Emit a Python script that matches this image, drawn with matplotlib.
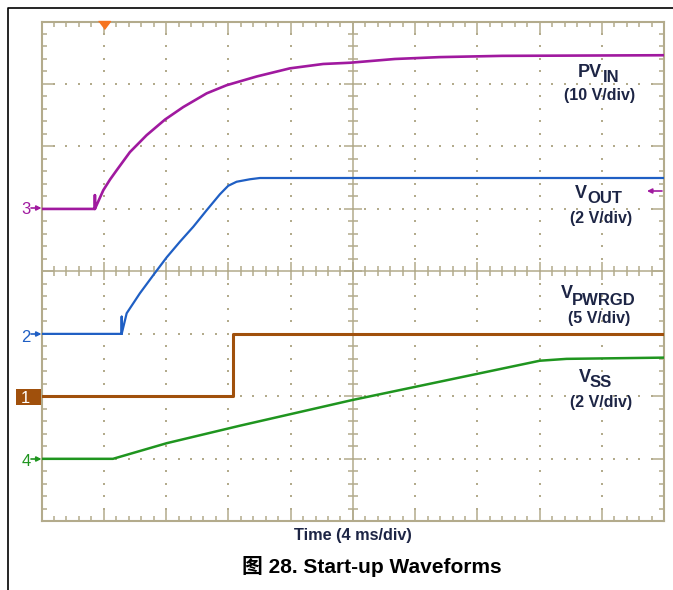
import matplotlib
matplotlib.use('Agg')
import matplotlib.pyplot as plt
import numpy as np
from matplotlib.patches import Rectangle
from matplotlib.lines import Line2D
from matplotlib.ticker import MultipleLocator

W, H = 673, 590

# scope settings: 4 ms/div, 10 x 8 divisions
ms_per_div = 4.0

# PVIN, 10 V/div, ground marker at 5 div
pvin_t = [0, 3.43, 3.43, 3.43, 3.97, 4.40, 4.83, 5.68, 6.75, 7.93, 9.10, 10.61, 11.89,
          13.82, 15.95, 18.09, 19.82, 22.7, 25.58, 29.57, 40.0]
pvin_v = [0, 0, 2.2, 0, 3.0, 4.7, 6.2, 9.1, 11.8, 14.3, 16.3, 18.5, 19.8,
          21.2, 22.5, 23.2, 23.4, 24.0, 24.3, 24.5, 24.6]

# VOUT, 2 V/div, ground marker at 3 div
vout_t = [0, 5.15, 5.15, 5.15, 5.47, 6.32, 7.18, 8.04, 8.89, 9.75, 10.61, 11.46,
          11.99, 12.53, 13.39, 14.03, 40.0]
vout_v = [0, 0, 0.55, 0, 0.66, 1.30, 1.88, 2.45, 2.95, 3.43, 3.96, 4.47,
          4.74, 4.87, 4.95, 4.99, 4.99]

# VPWRGD, 5 V/div, ground marker at 2 div
pg_t = [0, 12.3, 12.3, 40.0]
pg_v = [0, 0, 5.0, 5.0]

# VSS, 2 V/div, ground marker at 1 div
vss_t = [0, 4.59, 8.04, 12.74, 19.94, 25.59, 32.0, 33.72, 40.0]
vss_v = [0, 0, 0.50, 1.06, 1.88, 2.47, 3.14, 3.20, 3.24]

grid_c = '#b3ab8c'
c_pvin = '#a0199f'
c_vout = '#1f5fc4'
c_pg = '#a0500c'
c_vss = '#1f951f'
txt_c = '#1d2545'

plt.rcParams['font.family'] = ['Liberation Sans', 'DejaVu Sans']

fig = plt.figure(figsize=(W / 100, H / 100), dpi=100)
ax = fig.add_axes([41.5 / W, 1 - 521.3 / H, (664.3 - 41.5) / W, (521.3 - 21.5) / H])
ax.set_xlim(0, 10)
ax.set_ylim(0, 8)

for s in ax.spines.values():
    s.set_color(grid_c)
    s.set_linewidth(1.5)
ax.xaxis.set_major_locator(MultipleLocator(1))
ax.xaxis.set_minor_locator(MultipleLocator(0.2))
ax.yaxis.set_major_locator(MultipleLocator(1))
ax.yaxis.set_minor_locator(MultipleLocator(0.2))
ax.tick_params(which='both', direction='in', top=True, right=True,
               labelbottom=False, labelleft=False, color=grid_c, width=1.1)
ax.tick_params(which='major', length=8.6)
ax.tick_params(which='minor', length=3.6)

# dotted graticule
steps_x = np.arange(1, 50) * 0.2
steps_y = np.arange(1, 40) * 0.2
dx, dy = [], []
for gx in [1, 2, 3, 4, 6, 7, 8, 9]:
    dx += [gx] * len(steps_y)
    dy += list(steps_y)
for gy in [1, 2, 3, 5, 6, 7]:
    dx += list(steps_x)
    dy += [gy] * len(steps_x)
ax.scatter(dx, dy, s=1.3, marker='s', color=grid_c, linewidths=0, zorder=1)

# centre cross with ticks
ax.axvline(5, color=grid_c, lw=1.1, zorder=1)
ax.axhline(4, color=grid_c, lw=1.1, zorder=1)
minor_x = [v for v in steps_x if abs(v - round(v)) > 1e-6]
minor_y = [v for v in steps_y if abs(v - round(v)) > 1e-6]
ax.plot(minor_x, [4] * len(minor_x), ls='none', marker='|', ms=7.5, mew=1.1, color=grid_c, zorder=1)
ax.plot(range(1, 10), [4] * 9, ls='none', marker='|', ms=13.5, mew=1.1, color=grid_c, zorder=1)
ax.plot([5] * len(minor_y), minor_y, ls='none', marker='_', ms=7.5, mew=1.1, color=grid_c, zorder=1)
ax.plot([5] * 7, range(1, 8), ls='none', marker='_', ms=13.5, mew=1.1, color=grid_c, zorder=1)

# traces
def trace(t, v, pos, scale, color, lw):
    ax.plot(np.array(t) / ms_per_div, pos + np.array(v) / scale, color=color, lw=lw,
            solid_joinstyle='round', zorder=5)

trace(pvin_t, pvin_v, 5, 10, c_pvin, 1.9)
trace(vout_t, vout_v, 3, 2, c_vout, 1.6)
trace(pg_t, pg_v, 2, 5, c_pg, 2.2)
trace(vss_t, vss_v, 1, 2, c_vss, 1.8)

# trigger marker
ax.plot(1, (521.3 - 25) / 62.5, marker=[(-6, 4), (6, 4), (0, -4)], ms=8.6,
        color='#f6741f', clip_on=False, zorder=6)


def ftxt(x, y, s, **kw):
    fig.text(x / W, 1 - y / H, s, **kw)


def farrow(x0, x1, y, color):
    ax.annotate('', xy=(x1, H - y), xycoords='figure pixels', xytext=(x0, H - y),
                textcoords='figure pixels',
                arrowprops=dict(arrowstyle='-|>', color=color, lw=1.2,
                                mutation_scale=7, shrinkA=0, shrinkB=0))


# channel labels
bold = dict(fontweight='bold', color=txt_c, va='baseline')
ftxt(578, 76.7, 'PV', fontsize=13, ha='left', **bold)
ftxt(603, 81.7, 'IN', fontsize=12, ha='left', **bold)
ftxt(599.5, 100, '(10 V/div)', fontsize=11.5, ha='center', **bold)
ftxt(575, 197.7, 'V', fontsize=13, ha='left', **bold)
ftxt(587, 203.3, 'OUT', fontsize=12, ha='left', **bold)
ftxt(601.5, 223.3, '(2 V/div)', fontsize=11.5, ha='center', **bold)
ftxt(560.7, 298.3, 'V', fontsize=13, ha='left', **bold)
ftxt(572, 305, 'PWRGD', fontsize=12, ha='left', **bold)
ftxt(599.5, 323.3, '(5 V/div)', fontsize=11.5, ha='center', **bold)
ftxt(579, 381.7, 'V', fontsize=13, ha='left', **bold)
ftxt(590, 386.7, 'SS', fontsize=12, ha='left', **bold)
ftxt(601, 406.5, '(2 V/div)', fontsize=11.5, ha='center', **bold)
farrow(662, 647, 191, c_pvin)

# ground markers on the left
ftxt(26, 214.3, '3', fontsize=12, color=c_pvin, ha='center', va='baseline')
farrow(31, 41.5, 208, c_pvin)
ftxt(26, 341.7, '2', fontsize=12, color=c_vout, ha='center', va='baseline')
farrow(31, 41.5, 334, c_vout)
fig.add_artist(Rectangle((16 / W, 1 - 405.3 / H), 25 / W, 16.6 / H,
                         transform=fig.transFigure, color=c_pg, lw=0))
ftxt(25, 403.3, '1', fontsize=12, color='white', ha='center', va='baseline')
farrow(31, 40.5, 397, 'white')
ftxt(26, 466, '4', fontsize=12, color=c_vss, ha='center', va='baseline')
farrow(31, 41.5, 459, c_vss)

# axis title and caption
ftxt(353, 540, 'Time (4 ms/div)', fontsize=11.7, fontweight='bold', color=txt_c,
     ha='center', va='baseline')
ftxt(371.5, 573.3, '图 28. Start-up Waveforms', fontsize=15, fontweight='bold',
     color='black', ha='center', va='baseline',
     family=['Liberation Sans', 'Noto Sans CJK SC'])

# page frame (top and left edges)
fig.add_artist(Line2D([8 / W, 8 / W, 1], [0, 1 - 8 / H, 1 - 8 / H],
                      transform=fig.transFigure, color='black', lw=1.2))

fig.savefig('out.png', dpi=100)
